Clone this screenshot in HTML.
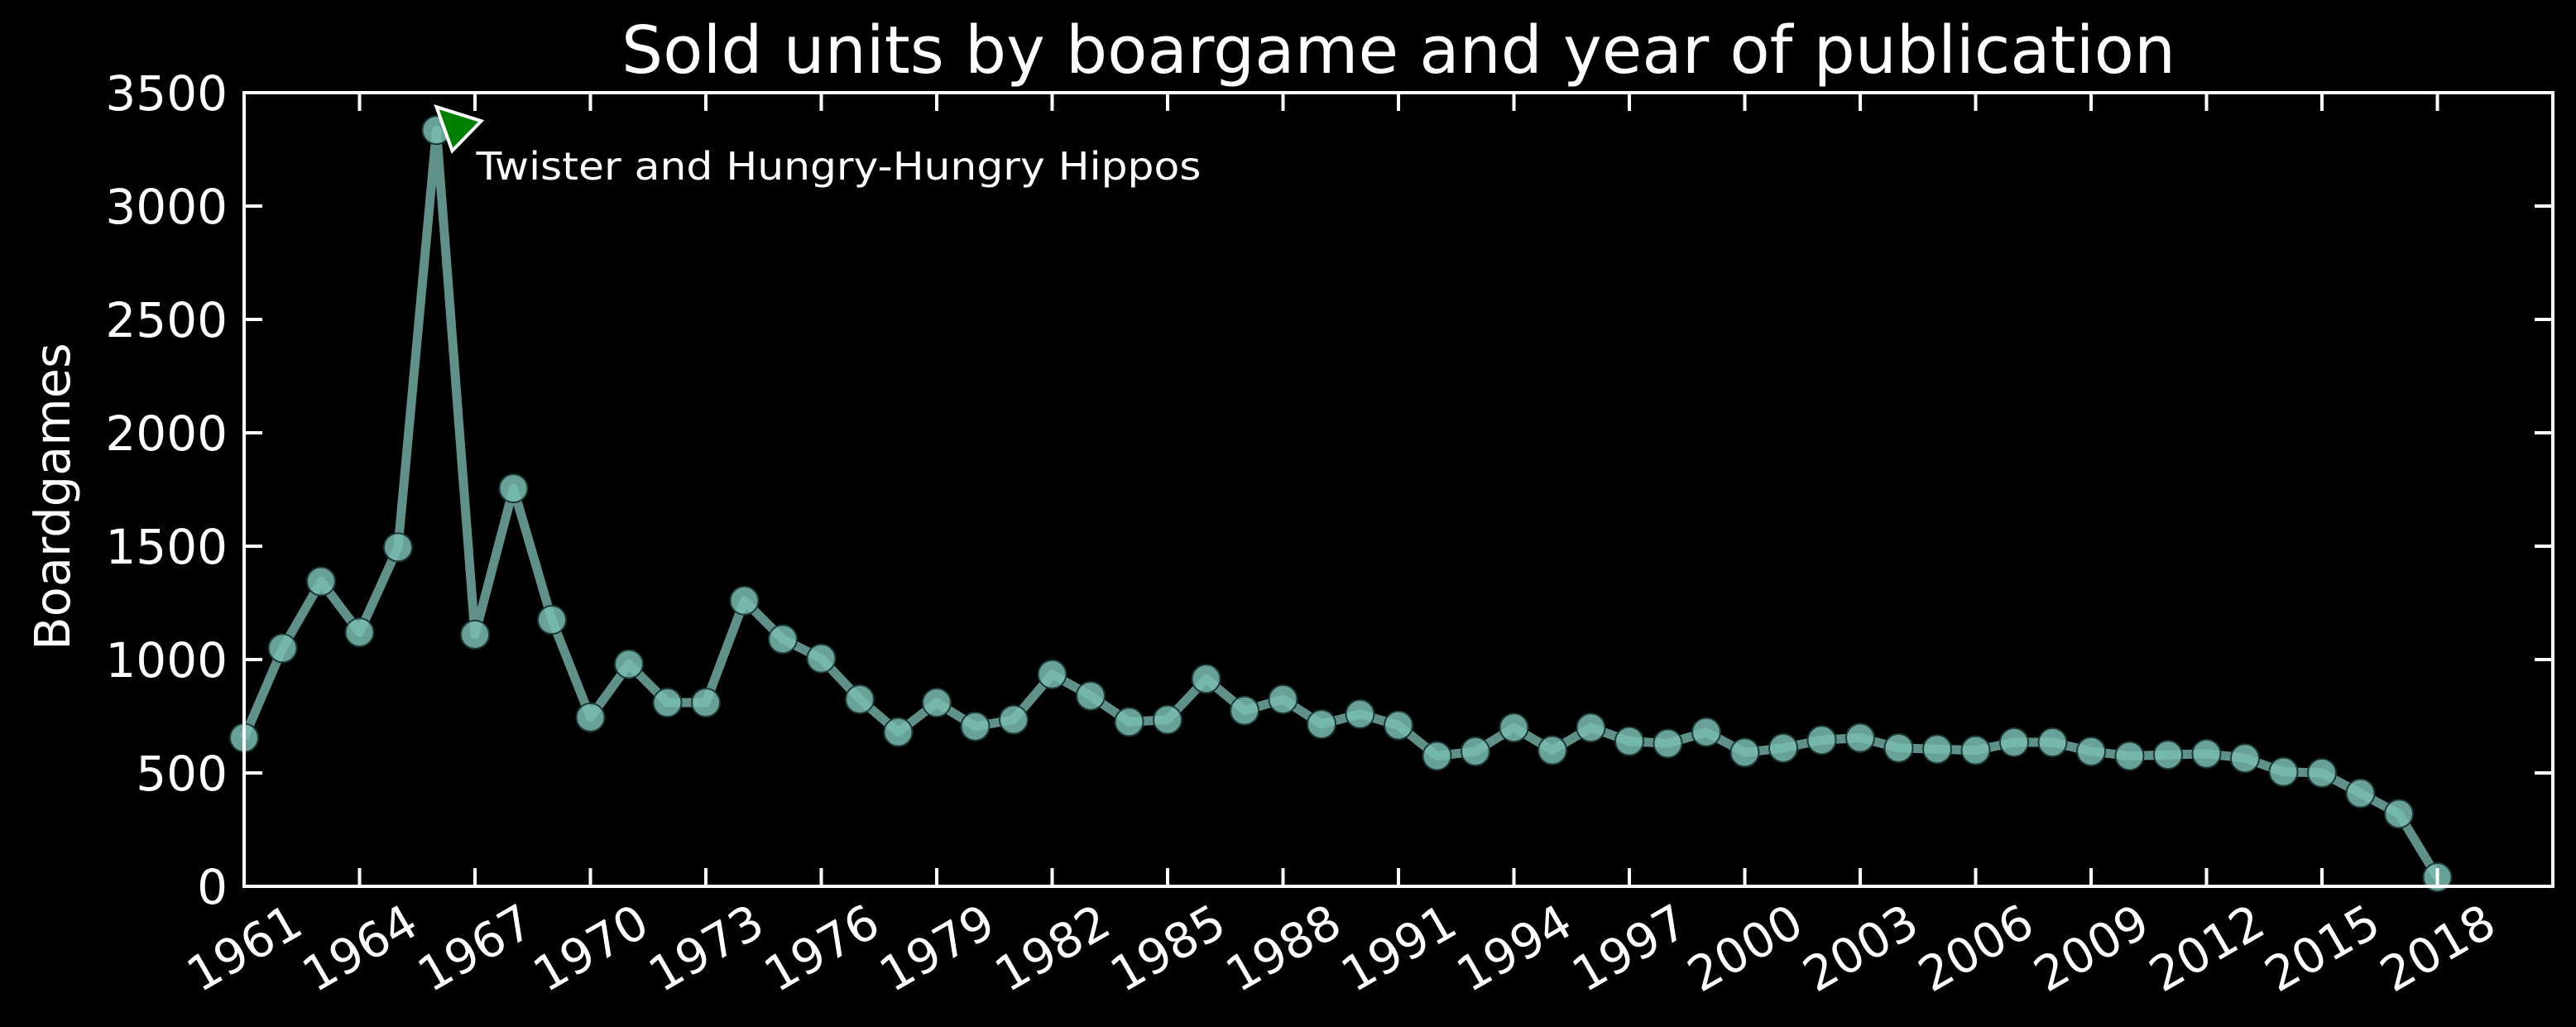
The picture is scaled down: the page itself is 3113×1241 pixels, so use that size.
<!DOCTYPE html>
<html><head><meta charset="utf-8"><style>
html,body{margin:0;padding:0;background:#000;}
svg{display:block;font-family:"DejaVu Sans","Liberation Sans",sans-serif;}
</style></head><body>
<svg id="chart" width="3113" height="1241" viewBox="0 0 3113 1241" xmlns="http://www.w3.org/2000/svg">
<rect width="3113" height="1241" fill="#000"/>
<text x="1690" y="88" fill="#fff" font-size="79" text-anchor="middle">Sold units by boargame and year of publication</text>
<text x="0" y="0" transform="translate(84,600) rotate(-90)" fill="#fff" font-size="59" text-anchor="middle">Boardgames</text>
<g id="series"></g>
<rect x="295" y="112" width="2790" height="959" fill="none" stroke="#fff" stroke-width="4"/>
<g id="axes"></g>
<g id="annot"></g>
</svg>
<script>
const years = [1961,1962,1963,1964,1965,1966,1967,1968,1969,1970,1971,1972,1973,1974,1975,1976,1977,1978,1979,1980,1981,1982,1983,1984,1985,1986,1987,1988,1989,1990,1991,1992,1993,1994,1995,1996,1997,1998,1999,2000,2001,2002,2003,2004,2005,2006,2007,2008,2009,2010,2011,2012,2013,2014,2015,2016,2017,2018];
const units = [655,1050,1345,1120,1495,3335,1110,1755,1175,745,980,810,810,1260,1090,1005,825,680,810,705,735,935,840,725,735,915,775,825,715,760,710,575,595,700,600,700,640,630,680,590,610,645,655,610,605,600,635,635,595,575,580,585,565,505,500,410,320,40];
const xTicks = [1961,1964,1967,1970,1973,1976,1979,1982,1985,1988,1991,1994,1997,2000,2003,2006,2009,2012,2015,2018];
const yTicks = [0,500,1000,1500,2000,2500,3000,3500];
const annotYear = 1966;
const annotValue = 3335;

const NS = "http://www.w3.org/2000/svg";
const L=295,R=3085,T=112,B=1071, X0=1961,X1=2021, Y0=0,Y1=3500;
const xs = v => L + (v-X0)/(X1-X0)*(R-L);
const ys = v => B - (v-Y0)/(Y1-Y0)*(B-T);
function mk(tag, attrs, parent){const e=document.createElementNS(NS,tag);for(const k in attrs)e.setAttribute(k,attrs[k]);parent.appendChild(e);return e;}
const axes=document.getElementById('axes'), series=document.getElementById('series'), annot=document.getElementById('annot');

xTicks.forEach(t=>{
  const x=xs(t);
  const a=mk('line',{x1:x,x2:x,y1:B,y2:B-22,stroke:'#fff','stroke-width':4},axes);
  
  
  const b=mk('line',{x1:x,x2:x,y1:T,y2:T+22,stroke:'#fff','stroke-width':4},axes);
  
  
  const tx=mk('text',{x:0,y:0,dy:'0.36em',transform:`translate(${x},${B+74}) rotate(-30)`,fill:'#fff','font-size':58,'text-anchor':'middle'},axes);
  tx.textContent=t;
  
  
});
yTicks.forEach(t=>{
  const y=ys(t);
  const a=mk('line',{x1:L,x2:L+22,y1:y,y2:y,stroke:'#fff','stroke-width':4},axes);
  
  
  const b=mk('line',{x1:R,x2:R-22,y1:y,y2:y,stroke:'#fff','stroke-width':4},axes);
  
  
  const tx=mk('text',{x:L-20,y:y+21,fill:'#fff','font-size':58,'text-anchor':'end'},axes);
  tx.textContent=t;
  
  
});

const pts=years.map((yr,i)=>xs(yr)+','+ys(units[i])).join(' ');
const line=mk('polyline',{points:pts,fill:'none',stroke:'#5f9189','stroke-width':11,'stroke-linejoin':'round'},series);


years.forEach((yr,i)=>{
  const c=mk('circle',{cx:xs(yr),cy:ys(units[i]),r:17,fill:'#79bdb1','fill-opacity':0.85,stroke:'#1f3a36','stroke-width':2},series);
  
  
});

const px=xs(annotYear), py=ys(annotValue);
const tri=mk('polygon',{points:`${px},${py-28} ${px+54},${py-11} ${px+19},${py+25}`,fill:'#008000',stroke:'#fff','stroke-width':4,'stroke-linejoin':'miter'},annot);


const at=mk('text',{x:px+48,y:py+60,fill:'#fff','font-size':46,textLength:876,lengthAdjust:'spacingAndGlyphs'},annot);
at.textContent='Twister and Hungry-Hungry Hippos';


</script>
</body></html>
